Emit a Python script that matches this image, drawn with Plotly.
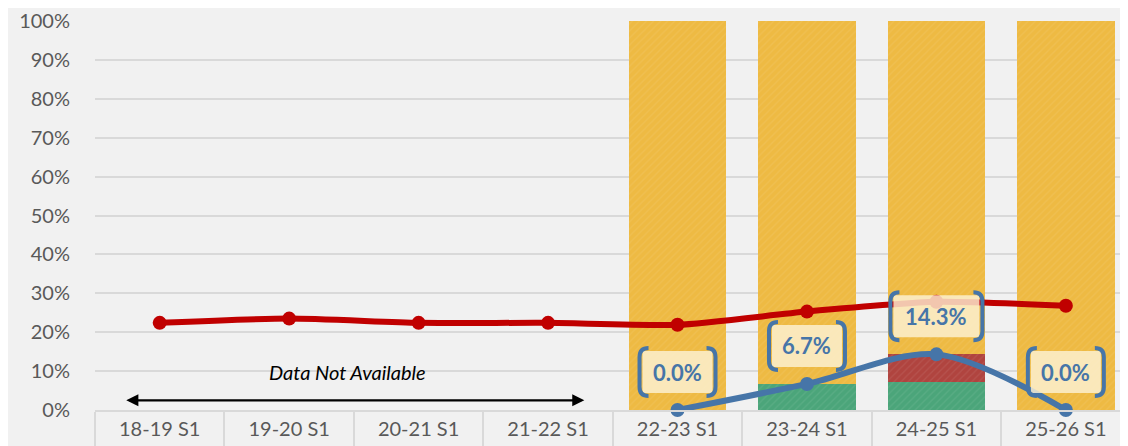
import plotly.graph_objects as go

# Palette
YELLOW = '#EEBA43'
GREEN = '#4BA57A'
DARK_RED = '#B0443F'
RED_LINE = '#C00000'
BLUE_LINE = '#4675A8'
GRID = '#D9D9D9'
TEXT_GREY = '#595959'
FONT = "Lato, 'Open Sans', sans-serif"

categories = ['18-19 S1', '19-20 S1', '20-21 S1', '21-22 S1',
              '22-23 S1', '23-24 S1', '24-25 S1', '25-26 S1']
bar_categories = ['22-23 S1', '23-24 S1', '24-25 S1', '25-26 S1']

green_share = [0.0, 0.067, 0.071, 0.0]
red_share = [0.0, 0.0, 0.072, 0.0]
yellow_share = [1.0, 0.933, 0.857, 1.0]

red_line = [0.224, 0.235, 0.224, 0.224, 0.219, 0.253, 0.278, 0.268]
blue_line = [0.0, 0.067, 0.143, 0.0]
blue_labels = ['0.0%', '6.7%', '14.3%', '0.0%']
label_widths = [76, 76, 92, 76]

y_ticks = [i / 10 for i in range(11)]

fig = go.Figure()

pattern = dict(shape='/', fgcolor='white', fgopacity=0.08, size=5, solidity=0.25)
for vals, col in [(green_share, GREEN), (red_share, DARK_RED), (yellow_share, YELLOW)]:
    fig.add_trace(go.Bar(x=bar_categories, y=vals, marker=dict(color=col, line_width=0, pattern=pattern),
                         showlegend=False, hoverinfo='skip'))

fig.add_trace(go.Scatter(
    x=categories, y=red_line, mode='lines+markers',
    line=dict(color=RED_LINE, width=6, shape='spline', smoothing=0.6),
    marker=dict(color=RED_LINE, size=14), showlegend=False, cliponaxis=False))

fig.add_trace(go.Scatter(
    x=bar_categories, y=blue_line, mode='lines+markers',
    line=dict(color=BLUE_LINE, width=6, shape='spline', smoothing=0.9),
    marker=dict(color=BLUE_LINE, size=14), showlegend=False, cliponaxis=False))

# bracketed data labels above the blue points
for cat, val, txt, w in zip(bar_categories, blue_line, blue_labels, label_widths):
    half_w, cy, half_h, r = w / 2, 38, 24, 9
    fig.add_shape(type='rect', xref='x', yref='y', xsizemode='pixel', ysizemode='pixel',
                  xanchor=cat, yanchor=val,
                  x0=-half_w + 3, x1=half_w - 3, y0=cy - half_h + 3, y1=cy + half_h - 3,
                  fillcolor='rgba(253,242,212,0.82)', line_width=0, layer='above')
    for side in (-1, 1):
        xo = side * half_w
        xi = xo - side * r
        path = (f'M {xi},{cy + half_h} Q {xo},{cy + half_h} {xo},{cy + half_h - r} '
                f'L {xo},{cy - half_h + r} Q {xo},{cy - half_h} {xi},{cy - half_h}')
        fig.add_shape(type='path', xref='x', yref='y', xsizemode='pixel', ysizemode='pixel',
                      xanchor=cat, yanchor=val, path=path,
                      line=dict(color=BLUE_LINE, width=4), layer='above')
    fig.add_annotation(x=cat, y=val, yshift=38, text=f'<b>{txt}</b>', showarrow=False,
                       font=dict(family=FONT, size=22, color=BLUE_LINE))

# "Data Not Available" marker over the first four years
fig.add_annotation(x=3.28, y=0.025, ax=-0.27, ay=0.025, xref='x', yref='y', axref='x', ayref='y',
                   text='', showarrow=True, arrowhead=2, arrowside='end+start',
                   arrowsize=1.1, arrowwidth=2.2, arrowcolor='black')
fig.add_annotation(x=1.45, y=0.097, xref='x', yref='y', text='<i>Data Not Available</i>',
                   showarrow=False, font=dict(family=FONT, size=20, color='black'))

# the page body keeps an 8px margin, so the figure is sized to fit inside it
fig.update_layout(
    width=1120, height=438,
    barmode='stack', bargap=0.245,
    paper_bgcolor='#F1F1F1', plot_bgcolor='#F1F1F1',
    margin=dict(l=87, r=0, t=11, b=35),
    font=dict(family=FONT, color=TEXT_GREY),
)
fig.update_xaxes(
    type='category', categoryorder='array', categoryarray=categories,
    range=[-0.5, 7.48], showgrid=False,
    showline=True, linecolor=GRID, linewidth=2,
    ticks='outside', tickson='boundaries', ticklen=36, tickcolor=GRID, tickwidth=2,
    tickfont=dict(size=20, color=TEXT_GREY, family=FONT),
)
fig.update_yaxes(
    range=[0, 1], tickvals=y_ticks, tickformat='.0%',
    showgrid=True, gridcolor=GRID, gridwidth=2, zeroline=False,
    ticklabelstandoff=24, ticklabeloverflow='allow',
    tickfont=dict(size=20, color=TEXT_GREY, family=FONT),
)

fig.write_html("out.html")
